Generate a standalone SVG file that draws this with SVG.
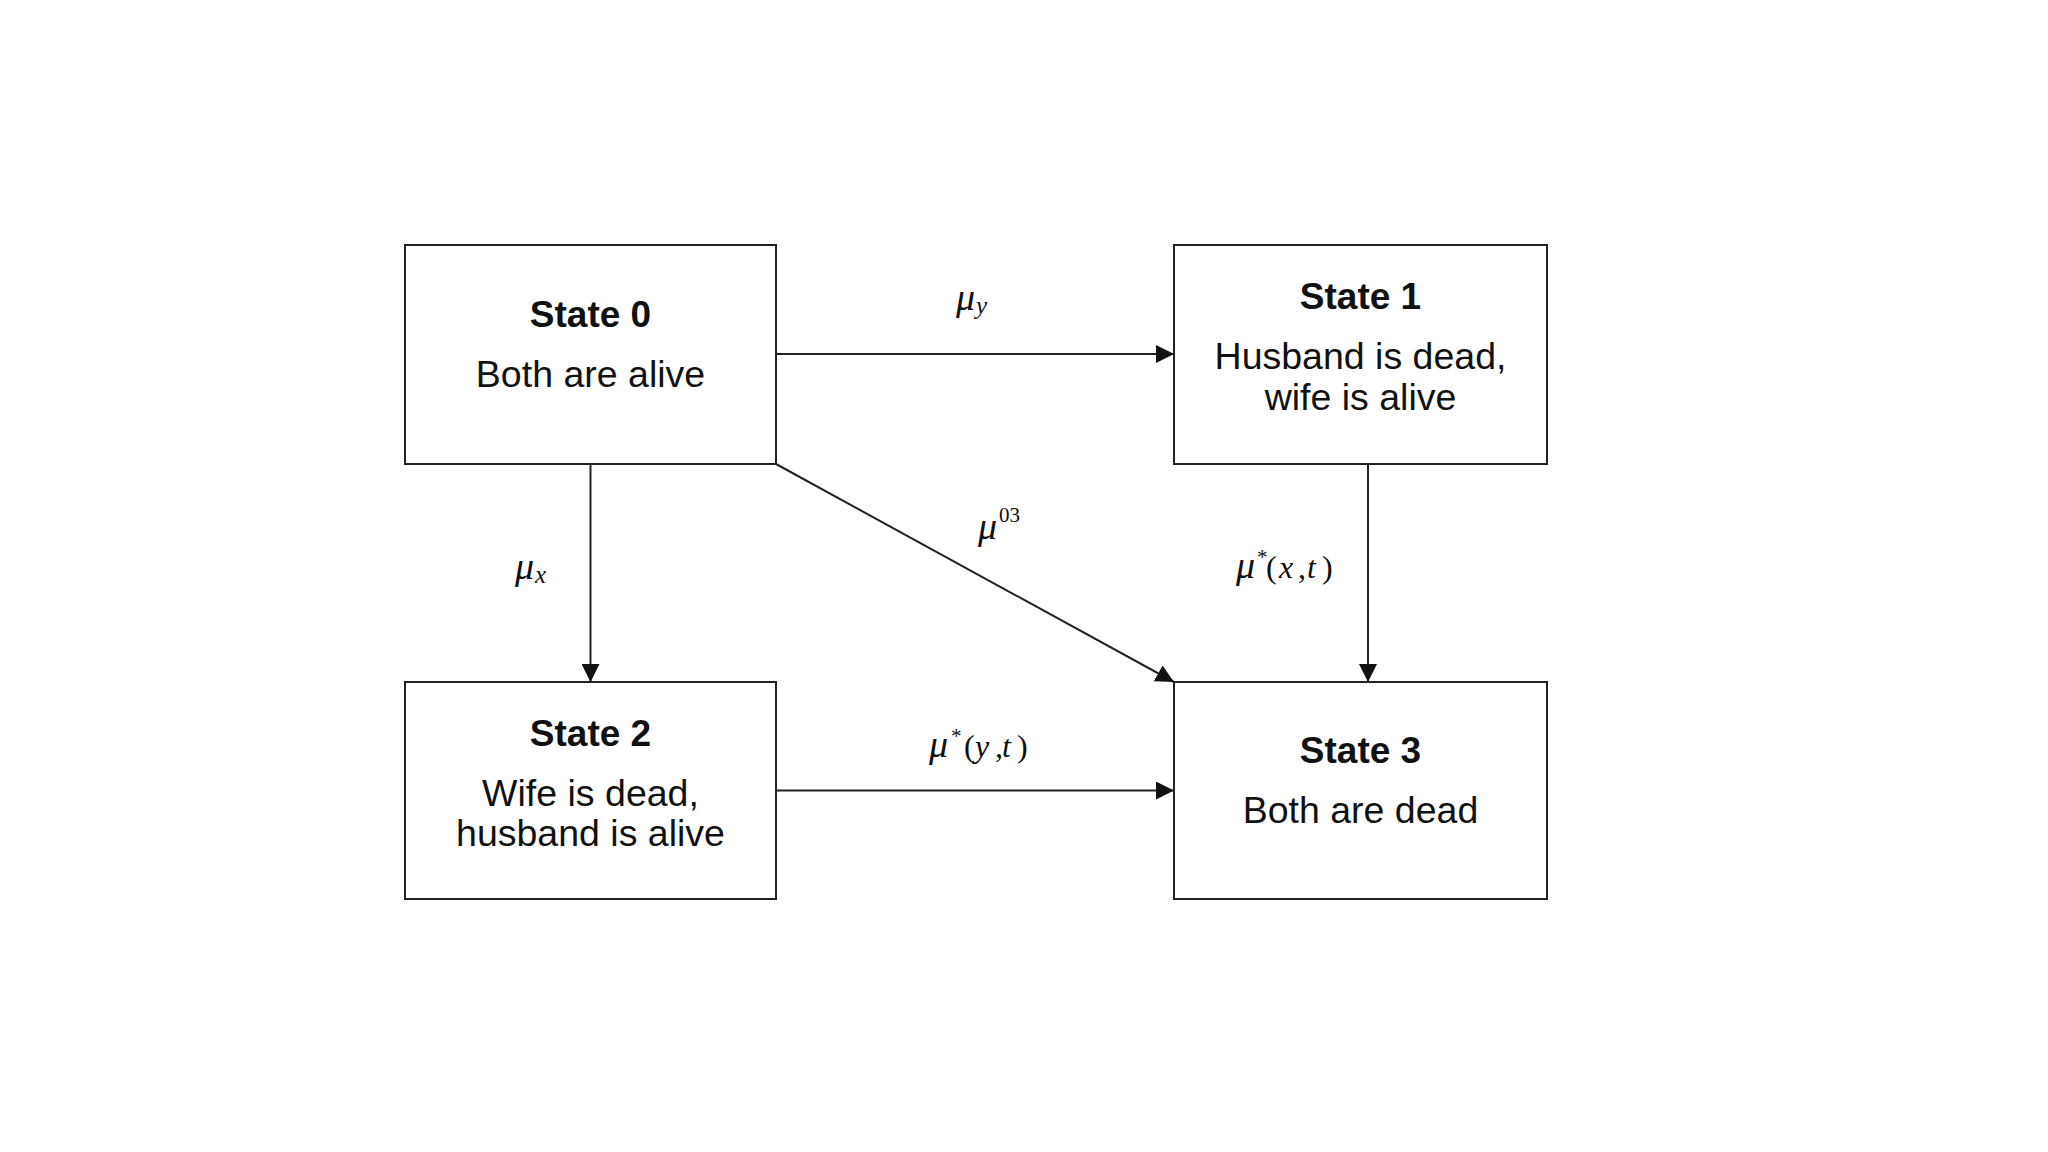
<svg xmlns="http://www.w3.org/2000/svg" width="2048" height="1152" viewBox="0 0 2048 1152">
  <style>
    .box { fill: #ffffff; stroke: #222222; stroke-width: 2; }
    .title { font-family: "Liberation Sans", Arial, sans-serif; font-weight: bold; font-size: 37px; fill: #111111; text-anchor: middle; }
    .body { font-family: "Liberation Sans", Arial, sans-serif; font-size: 37.5px; fill: #111111; text-anchor: middle; }
    .edge { fill: none; stroke: #222222; stroke-width: 2; }
    .math { font-family: "Liberation Serif", "Times New Roman", serif; fill: #111111; font-size: 32px; }
    .mu { font-style: italic; font-size: 38px; }
    .it { font-style: italic; }
    .sub { font-size: 25px; font-style: italic; }
    .sup { font-size: 21px; }
  </style>
  <defs>
    <marker id="arrow" viewBox="0 0 18 18" refX="18" refY="9" markerWidth="18" markerHeight="18" markerUnits="userSpaceOnUse" orient="auto">
      <path d="M0,0 L18,9 L0,18 Z" fill="#111111"/>
    </marker>
  </defs>
  <rect width="2048" height="1152" fill="#ffffff"/>

  <g id="connectors">
    <line class="edge" x1="776" y1="354" x2="1174" y2="354" marker-end="url(#arrow)"/>
    <line class="edge" x1="590.5" y1="464" x2="590.5" y2="682" marker-end="url(#arrow)"/>
    <line class="edge" x1="776" y1="464" x2="1174" y2="682" marker-end="url(#arrow)"/>
    <line class="edge" x1="1368" y1="464" x2="1368" y2="682" marker-end="url(#arrow)"/>
    <line class="edge" x1="776" y1="790.5" x2="1174" y2="790.5" marker-end="url(#arrow)"/>
  </g>

  <g id="labels">
    <text class="math" x="956" y="310"><tspan class="mu">μ</tspan><tspan class="sub" x="976" y="314">y</tspan></text>
    <text class="math" x="515" y="579"><tspan class="mu">μ</tspan><tspan class="sub" x="535" y="583">x</tspan></text>
    <text class="math" x="978" y="539"><tspan class="mu">μ</tspan><tspan class="sup" x="999" y="522">03</tspan></text>
    <text class="math" x="1236" y="578"><tspan class="mu">μ</tspan><tspan class="sup" x="1257" y="564">*</tspan><tspan x="1266" y="578">(</tspan><tspan class="it" x="1279">x</tspan><tspan x="1298">,</tspan><tspan class="it" x="1307">t</tspan><tspan x="1322">)</tspan></text>
    <text class="math" x="929" y="757"><tspan class="mu">μ</tspan><tspan class="sup" x="951" y="743">*</tspan><tspan x="964" y="757">(</tspan><tspan class="it" x="975">y</tspan><tspan x="995">,</tspan><tspan class="it" x="1002">t</tspan><tspan x="1017">)</tspan></text>
  </g>

  <g id="state0">
    <rect class="box" x="405" y="245" width="371" height="219"/>
    <text class="title" x="590.5" y="327">State 0</text>
    <text class="body" x="590.5" y="387">Both are alive</text>
  </g>
  <g id="state1">
    <rect class="box" x="1174" y="245" width="373" height="219"/>
    <text class="title" x="1360.5" y="309">State 1</text>
    <text class="body" x="1360.5" y="369">Husband is dead,</text>
    <text class="body" x="1360.5" y="410">wife is alive</text>
  </g>
  <g id="state2">
    <rect class="box" x="405" y="682" width="371" height="217"/>
    <text class="title" x="590.5" y="746">State 2</text>
    <text class="body" x="590.5" y="806">Wife is dead,</text>
    <text class="body" x="590.5" y="846">husband is alive</text>
  </g>
  <g id="state3">
    <rect class="box" x="1174" y="682" width="373" height="217"/>
    <text class="title" x="1360.5" y="763">State 3</text>
    <text class="body" x="1360.5" y="823">Both are dead</text>
  </g>
</svg>
